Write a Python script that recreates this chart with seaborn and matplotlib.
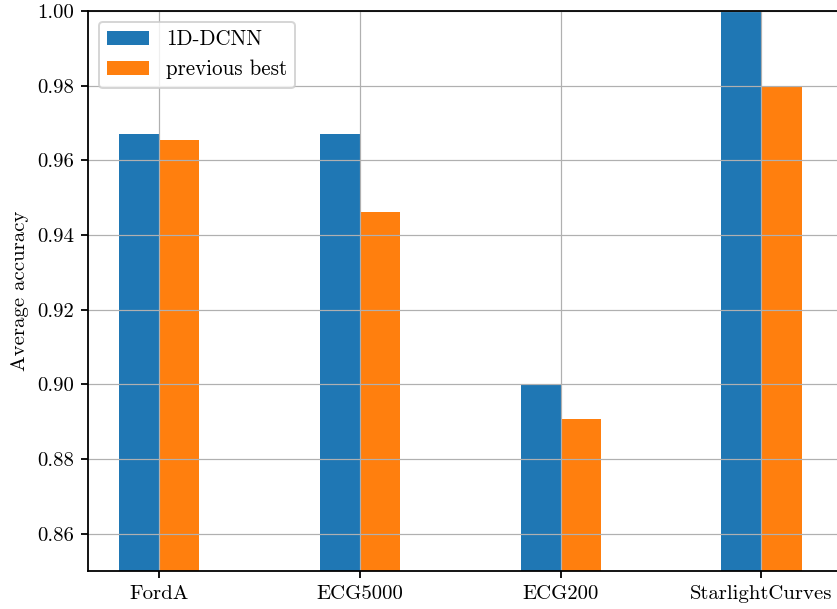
import matplotlib
matplotlib.use("Agg")
import matplotlib.pyplot as plt
import seaborn as sns
import pandas as pd

datasets = ["FordA", "ECG5000", "ECG200", "StarlightCurves"]
dcnn = [0.9671, 0.9671, 0.9000, 1.0000]
previous_best = [0.9655, 0.9462, 0.8907, 0.9797]
series_names = ["1D-DCNN", "previous best"]

df = pd.DataFrame({
    "dataset": datasets * 2,
    "accuracy": dcnn + previous_best,
    "model": [series_names[0]] * len(datasets) + [series_names[1]] * len(datasets),
})

plt.rcParams.update({
    "font.family": "serif",
    "font.serif": ["cmr10"],
    "mathtext.fontset": "cm",
    "axes.formatter.use_mathtext": True,
    "font.size": 10.4,
    "legend.fontsize": 10.5,
    "axes.axisbelow": "line",
    "axes.linewidth": 0.9,
    "xtick.major.width": 0.9,
    "ytick.major.width": 0.9,
    "xtick.major.size": 3.6,
    "ytick.major.size": 3.6,
})

W, H, DPI = 837, 609, 144
fig = plt.figure(figsize=(W / DPI, H / DPI), dpi=DPI)

# axes geometry in pixels
left_px, top_px, bottom_px = 88, 11, 571
x0, x1 = -0.354, 3.40
px_per_unit = 200.8
width_px = (x1 - x0) * px_per_unit
ax = fig.add_axes([left_px / W, (H - bottom_px) / H, width_px / W, (bottom_px - top_px) / H])

sns.barplot(data=df, x="dataset", y="accuracy", hue="model",
            palette=["#1f77b4", "#ff7f0e"], width=0.4, errorbar=None,
            saturation=1, ax=ax)

ax.set_xlim(x0, x1)
ax.set_ylim(0.85, 1.00)
ax.set_yticks([0.86, 0.88, 0.90, 0.92, 0.94, 0.96, 0.98, 1.00])
ax.set_yticklabels([f"{v:.2f}" for v in ax.get_yticks()])
ax.set_xlabel("")
ax.set_ylabel("Average accuracy")
ax.grid(True, color="#b0b0b0", linewidth=0.6)

handles, labels = ax.get_legend_handles_labels()
ax.legend(handles, labels, loc="upper left")

fig.savefig("out.png", dpi=DPI)
